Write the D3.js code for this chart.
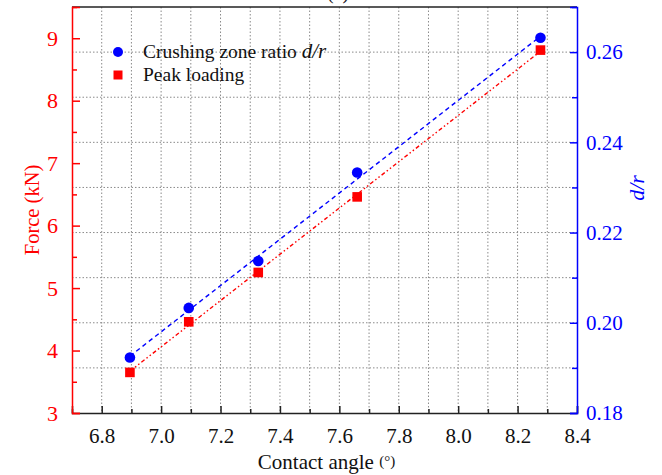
<!DOCTYPE html>
<html>
<head>
<meta charset="utf-8">
<script src="https://cdn.jsdelivr.net/npm/d3@7"></script>
<style>
  html, body { margin: 0; padding: 0; background: #fff; }
  svg { display: block; font-family: "Liberation Serif", "Times New Roman", serif; }
</style>
</head>
<body>
<svg id="chart" width="662" height="475"></svg>
<script>
// ---- data ----
const angles = [6.895, 7.093, 7.327, 7.66, 8.277];
const crushRatio = [0.1923, 0.2033, 0.2137, 0.2333, 0.2632];
const peakForce = [3.65, 4.46, 5.25, 6.46, 8.81];
const fitAngles = [6.895, 8.277];
const crushFit = [0.1926, 0.2635];
const forceFit = [3.67, 8.79];
const xTicks = [6.8, 7.0, 7.2, 7.4, 7.6, 7.8, 8.0, 8.2, 8.4];
const xMinorTicks = [6.7, 6.9, 7.1, 7.3, 7.5, 7.7, 7.9, 8.1, 8.3];
const forceTicks = [3, 4, 5, 6, 7, 8, 9];
const forceMinorTicks = [3.5, 4.5, 5.5, 6.5, 7.5, 8.5, 9.5];
const ratioTicks = [0.18, 0.20, 0.22, 0.24, 0.26];
const ratioMinorTicks = [0.19, 0.21, 0.23, 0.25, 0.27];
const gridX = [6.8, 6.9, 7.0, 7.1, 7.2, 7.3, 7.4, 7.5, 7.6, 7.7, 7.8, 7.9, 8.0, 8.1, 8.2, 8.3];
const gridY = [0.19, 0.20, 0.21, 0.22, 0.23, 0.24, 0.25, 0.26];

(function () {
// ---- layout ----
const RED = "#ff0000", BLUE = "#0000ff";
const FONT = "'Liberation Serif', 'Times New Roman', serif";
const pL = 72, pR = 577, pT = 7, pB = 413;
const svg = d3.select("#chart");

const x = d3.scaleLinear().domain([6.7, 8.4]).range([pL, pR]);
const yF = d3.scaleLinear().domain([3, 9.5]).range([pB, pT]);
const yR = d3.scaleLinear().domain([0.18, 0.27]).range([pB, pT]);

// grid
const grid = svg.append("g").attr("stroke", "#8a8a8a").attr("stroke-width", 1)
  .attr("stroke-dasharray", "1.5,2");
grid.selectAll("line.gx").data(gridX).join("line").attr("class", "gx")
  .attr("x1", d => x(d)).attr("x2", d => x(d)).attr("y1", pT).attr("y2", pB);
grid.selectAll("line.gy").data(gridY).join("line").attr("class", "gy")
  .attr("x1", pL).attr("x2", pR).attr("y1", d => yR(d)).attr("y2", d => yR(d));

// top frame
svg.append("line").attr("x1", pL).attr("x2", pR).attr("y1", pT).attr("y2", pT)
  .attr("stroke", "#222").attr("stroke-width", 1.5);

// bottom axis
const gx = svg.append("g").attr("transform", `translate(0,${pB})`)
  .call(d3.axisBottom(x).tickValues(xTicks).tickSize(-7).tickPadding(15).tickFormat(d3.format(".1f")));
const gxm = svg.append("g").attr("transform", `translate(0,${pB})`)
  .call(d3.axisBottom(x).tickValues(xMinorTicks).tickSize(-4).tickFormat(""));
gxm.select(".domain").remove();
gx.select(".domain").attr("stroke", "#222").attr("stroke-width", 1.5);
[gx, gxm].forEach(g => g.selectAll("line").attr("stroke", "#222").attr("stroke-width", 1.5));
gx.attr("font-family", FONT).attr("font-size", 21);
gx.selectAll("text").attr("fill", "#111");

// left axis
const gl = svg.append("g").attr("transform", `translate(${pL},0)`)
  .call(d3.axisLeft(yF).tickValues(forceTicks).tickSize(-8).tickPadding(14).tickFormat(d3.format("d")));
const glm = svg.append("g").attr("transform", `translate(${pL},0)`)
  .call(d3.axisLeft(yF).tickValues(forceMinorTicks).tickSize(-5).tickFormat(""));
glm.select(".domain").remove();
[gl, glm].forEach(g => g.selectAll("line").attr("stroke", RED).attr("stroke-width", 1.5));
gl.select(".domain").attr("stroke", RED).attr("stroke-width", 1.5);
gl.attr("font-family", FONT).attr("font-size", 22);
gl.selectAll("text").attr("fill", RED);

// right axis
const gr = svg.append("g").attr("transform", `translate(${pR},0)`)
  .call(d3.axisRight(yR).tickValues(ratioTicks).tickSize(-7).tickPadding(9).tickFormat(d3.format(".2f")));
const grm = svg.append("g").attr("transform", `translate(${pR},0)`)
  .call(d3.axisRight(yR).tickValues(ratioMinorTicks).tickSize(-5).tickFormat(""));
grm.select(".domain").remove();
[gr, grm].forEach(g => g.selectAll("line").attr("stroke", BLUE).attr("stroke-width", 1.5));
gr.select(".domain").attr("stroke", BLUE).attr("stroke-width", 1.5);
gr.attr("font-family", FONT).attr("font-size", 21);
gr.selectAll("text").attr("fill", BLUE);

// fit lines
const lineF = d3.line().x(d => x(d[0])).y(d => yF(d[1]));
const lineR = d3.line().x(d => x(d[0])).y(d => yR(d[1]));
svg.append("path").attr("d", lineF(fitAngles.map((a, i) => [a, forceFit[i]])))
  .attr("fill", "none").attr("stroke", RED).attr("stroke-width", 1.4)
  .attr("stroke-dasharray", "4,2.5,1.5,2.5,1.5,2.5");
svg.append("path").attr("d", lineR(fitAngles.map((a, i) => [a, crushFit[i]])))
  .attr("fill", "none").attr("stroke", BLUE).attr("stroke-width", 1.4)
  .attr("stroke-dasharray", "4.5,3.5");

// markers
svg.append("g").selectAll("rect").data(angles).join("rect")
  .attr("x", d => x(d) - 4.8).attr("y", (d, i) => yF(peakForce[i]) - 4.8)
  .attr("width", 9.6).attr("height", 9.6).attr("fill", RED);
svg.append("g").selectAll("circle").data(angles).join("circle")
  .attr("cx", d => x(d)).attr("cy", (d, i) => yR(crushRatio[i]))
  .attr("r", 5.3).attr("fill", BLUE);

// legend
const lg = svg.append("g").attr("font-family", FONT);
lg.append("circle").attr("cx", 118).attr("cy", 52).attr("r", 5).attr("fill", BLUE);
lg.append("rect").attr("x", 113.5).attr("y", 70.5).attr("width", 9).attr("height", 9).attr("fill", RED);
const t1 = lg.append("text").attr("x", 143).attr("y", 58).attr("font-size", 19.5).attr("fill", "#111");
t1.append("tspan").text("Crushing zone ratio ");
t1.append("tspan").attr("font-style", "italic").attr("font-size", 21).text("d/r");
lg.append("text").attr("x", 143).attr("y", 81).attr("font-size", 19.5).attr("fill", "#111").text("Peak loading");

// axis titles
const xt = svg.append("text").attr("x", (pL + pR) / 2 + 2).attr("y", 469)
  .attr("text-anchor", "middle").attr("font-size", 21).attr("fill", "#111").attr("font-family", FONT);
xt.append("tspan").text("Contact angle  ");
xt.append("tspan").attr("font-size", 15).attr("dy", -3).text("(°)");

svg.append("text").attr("transform", `translate(39,${(pT + pB) / 2}) rotate(-90)`)
  .attr("font-family", FONT)
  .attr("text-anchor", "middle").attr("font-size", 20.5).attr("fill", RED).text("Force (kN)");

svg.append("text").attr("transform", `translate(644,188) rotate(-90)`)
  .attr("font-family", FONT)
  .attr("text-anchor", "middle").attr("font-size", 22).attr("font-style", "italic")
  .attr("fill", BLUE).text("d/r");

// panel title (clipped at the top edge, as in the source figure)
svg.append("text").attr("x", 338).attr("y", -1).attr("text-anchor", "middle")
  .attr("font-family", FONT).attr("font-size", 20).attr("fill", "#111").text("(a)");
})();
</script>
</body>
</html>
